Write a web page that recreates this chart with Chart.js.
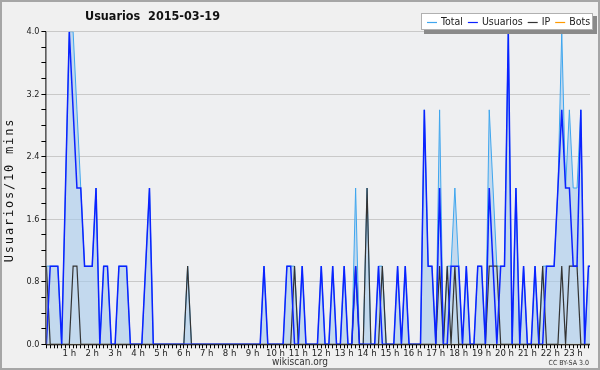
<!DOCTYPE html>
<html>
<head>
<meta charset="utf-8">
<script src="https://cdn.jsdelivr.net/npm/chart.js@4/dist/chart.umd.min.js"></script>
<style>
  html, body { margin: 0; padding: 0; background: #f0f0f0; }
  canvas { display: block; }
</style>
</head>
<body>
<canvas id="grafico" width="600" height="370"></canvas>
<script>
// one value per 10 minute slot, 00:00 .. 23:50
const total = [
    1, 1, 1, 1, 0, 2, 4, 4, 3, 2, 1, 1,
    1, 2, 0, 1, 1, 0, 0, 1, 1, 1, 0, 0,
    0, 0, 1, 2, 0, 0, 0, 0, 0, 0, 0, 0,
    0, 1, 0, 0, 0, 0, 0, 0, 0, 0, 0, 0,
    0, 0, 0, 0, 0, 0, 0, 0, 0, 1, 0, 0,
    0, 0, 0, 1, 1, 1, 0, 1, 0, 0, 0, 0,
    1, 0, 0, 1, 0, 0, 1, 0, 0, 2, 0, 0,
    2, 0, 0, 1, 1, 0, 0, 0, 1, 0, 1, 0,
    0, 0, 0, 3, 1, 1, 0, 3, 0, 1, 1, 2,
    1, 0, 1, 0, 0, 1, 1, 0, 3, 2, 1, 1,
    1, 4, 0, 2, 0, 1, 0, 0, 1, 0, 1, 1,
    1, 1, 2, 4, 2, 3, 2, 2, 3, 0, 1, 1
];
const usuarios = [
    0, 1, 1, 1, 0, 2, 4, 3, 2, 2, 1, 1,
    1, 2, 0, 1, 1, 0, 0, 1, 1, 1, 0, 0,
    0, 0, 1, 2, 0, 0, 0, 0, 0, 0, 0, 0,
    0, 0, 0, 0, 0, 0, 0, 0, 0, 0, 0, 0,
    0, 0, 0, 0, 0, 0, 0, 0, 0, 1, 0, 0,
    0, 0, 0, 1, 1, 0, 0, 1, 0, 0, 0, 0,
    1, 0, 0, 1, 0, 0, 1, 0, 0, 1, 0, 0,
    0, 0, 0, 1, 0, 0, 0, 0, 1, 0, 1, 0,
    0, 0, 0, 3, 1, 1, 0, 2, 0, 0, 1, 1,
    1, 0, 1, 0, 0, 1, 1, 0, 2, 1, 0, 1,
    1, 4, 0, 2, 0, 1, 0, 0, 1, 0, 0, 1,
    1, 1, 2, 3, 2, 2, 1, 1, 3, 0, 1, 1
];
const ip = [
    1, 0, 0, 0, 0, 0, 0, 1, 1, 0, 0, 0,
    0, 0, 0, 0, 0, 0, 0, 0, 0, 0, 0, 0,
    0, 0, 0, 0, 0, 0, 0, 0, 0, 0, 0, 0,
    0, 1, 0, 0, 0, 0, 0, 0, 0, 0, 0, 0,
    0, 0, 0, 0, 0, 0, 0, 0, 0, 0, 0, 0,
    0, 0, 0, 0, 0, 1, 0, 0, 0, 0, 0, 0,
    0, 0, 0, 0, 0, 0, 0, 0, 0, 1, 0, 0,
    2, 0, 0, 0, 1, 0, 0, 0, 0, 0, 0, 0,
    0, 0, 0, 0, 0, 0, 0, 1, 0, 1, 0, 1,
    0, 0, 0, 0, 0, 0, 0, 0, 1, 1, 1, 0,
    0, 0, 0, 0, 0, 0, 0, 0, 0, 0, 1, 0,
    0, 0, 0, 1, 0, 1, 1, 1, 0, 0, 0, 0
];
const bots = [
    0, 0, 0, 0, 0, 0, 0, 0, 0, 0, 0, 0,
    0, 0, 0, 0, 0, 0, 0, 0, 0, 0, 0, 0,
    0, 0, 0, 0, 0, 0, 0, 0, 0, 0, 0, 0,
    0, 0, 0, 0, 0, 0, 0, 0, 0, 0, 0, 0,
    0, 0, 0, 0, 0, 0, 0, 0, 0, 0, 0, 0,
    0, 0, 0, 0, 0, 0, 0, 0, 0, 0, 0, 0,
    0, 0, 0, 0, 0, 0, 0, 0, 0, 0, 0, 0,
    0, 0, 0, 0, 0, 0, 0, 0, 0, 0, 0, 0,
    0, 0, 0, 0, 0, 0, 0, 0, 0, 0, 0, 0,
    0, 0, 0, 0, 0, 0, 0, 0, 0, 0, 0, 0,
    0, 0, 0, 0, 0, 0, 0, 0, 0, 0, 0, 0,
    0, 0, 0, 0, 0, 0, 0, 0, 0, 0, 0, 0
];
const hourLabels = ['1 h', '2 h', '3 h', '4 h', '5 h', '6 h', '7 h', '8 h', '9 h', '10 h', '11 h', '12 h',
    '13 h', '14 h', '15 h', '16 h', '17 h', '18 h', '19 h', '20 h', '21 h', '22 h', '23 h'];
const yLabels = ['0.0', '0.8', '1.6', '2.4', '3.2', '4.0'];

const titulo = 'Usuarios  2015-03-19';
const ejeY = 'Usuarios/10 mins';

function pts(arr) {
    return arr.map((v, i) => ({ x: i, y: v }));
}

const series = [
    { label: 'Total', data: total, color: '#3fa6ee', width: 1, order: 2 },
    { label: 'Usuarios', data: usuarios, color: '#0b22ff', width: 1.5, order: 0 },
    { label: 'IP', data: ip, color: '#333333', width: 1.2, order: 1 },
    { label: 'Bots', data: bots, color: '#ff9a00', width: 1, order: 3 }
];

const decor = {
    id: 'decor',
    beforeDraw(chart) {
        const c = chart.ctx;
        const a = chart.chartArea;
        c.save();
        c.fillStyle = '#f0f0f0';
        c.fillRect(0, 0, chart.width, chart.height);
        c.fillStyle = '#eeeff1';
        c.fillRect(a.left, a.top, a.right - a.left, a.bottom - a.top);
        c.restore();
    },
    afterDatasetsDraw(chart) {
        const c = chart.ctx;
        const a = chart.chartArea;
        c.save();
        c.strokeStyle = '#000';
        c.lineWidth = 1;
        c.beginPath();
        c.moveTo(a.left - 0.5, a.top);
        c.lineTo(a.left - 0.5, a.bottom + 0.5);
        c.lineTo(a.right, a.bottom + 0.5);
        c.stroke();
        c.restore();
    },
    afterDraw(chart) {
        const c = chart.ctx;
        c.save();
        // outer frame
        c.strokeStyle = '#a6a6a6';
        c.lineWidth = 2;
        c.strokeRect(1, 1, 598, 368);

        c.fillStyle = '#111';
        c.font = "bold 12.5px 'DejaVu Sans Condensed', 'DejaVu Sans'";
        c.textBaseline = 'middle';
        c.fillText(titulo, 85, 17);

        c.save();
        c.translate(10, 190);
        c.rotate(-Math.PI / 2);
        c.textAlign = 'center';
        c.font = "12px 'DejaVu Sans Mono'";
        c.letterSpacing = '1.8px';
        c.fillText(ejeY, 0, 0);
        c.restore();

        c.textAlign = 'center';
        c.font = "10px 'DejaVu Sans Condensed', 'DejaVu Sans'";
        c.fillStyle = '#333';
        c.fillText('wikiscan.org', 300, 362);
        c.font = "7px 'DejaVu Sans Condensed', 'DejaVu Sans'";
        c.textAlign = 'right';
        c.fillText('CC BY-SA 3.0', 589, 363);

        // legend box with shadow
        c.fillStyle = '#8a8a8a';
        c.fillRect(424, 16, 173, 18);
        c.fillStyle = '#fff';
        c.fillRect(421, 13, 172, 17);
        c.strokeStyle = '#b0b0b0';
        c.lineWidth = 1;
        c.strokeRect(421.5, 13.5, 171, 16);
        c.font = "10.5px 'DejaVu Sans Condensed', 'DejaVu Sans'";
        c.textAlign = 'left';
        let x = 427;
        chart.data.datasets.forEach(ds => {
            c.strokeStyle = ds.borderColor;
            c.lineWidth = 1.2;
            c.beginPath();
            c.moveTo(x, 22.5);
            c.lineTo(x + 10, 22.5);
            c.stroke();
            c.fillStyle = '#222';
            c.fillText(ds.label, x + 14, 22.5);
            x += 14 + c.measureText(ds.label).width + 5;
        });
        c.restore();
    }
};

new Chart(document.getElementById('grafico'), {
    type: 'line',
    data: {
        datasets: series.map(s => ({
            label: s.label,
            data: pts(s.data),
            borderColor: s.color,
            borderWidth: s.width,
            backgroundColor: s.label === 'Total' ? 'rgba(168, 204, 236, 0.62)' : 'transparent',
            fill: s.label === 'Total' ? 'origin' : false,
            pointRadius: 0,
            tension: 0,
            order: s.order
        }))
    },
    options: {
        responsive: false,
        devicePixelRatio: 1,
        animation: false,
        layout: { padding: { left: 0, right: 10, top: 31.7, bottom: 0 } },
        plugins: {
            legend: { display: false },
            tooltip: { enabled: false }
        },
        scales: {
            x: {
                type: 'linear',
                min: 0,
                max: 142.4,
                afterFit(scale) { scale.height = 25.7; },
                border: { display: false },
                grid: { drawOnChartArea: false, tickLength: 4, tickColor: '#000' },
                ticks: {
                    stepSize: 1,
                    includeBounds: false,
                    autoSkip: false,
                    maxRotation: 0,
                    minRotation: 0,
                    maxTicksLimit: 1000,
                    padding: 0,
                    color: '#222',
                    font: { family: "'DejaVu Sans Condensed', 'DejaVu Sans'", size: 9.5 },
                    callback: v => (v > 0 && v % 6 === 0) ? hourLabels[v / 6 - 1] : ''
                }
            },
            y: {
                min: 0,
                max: 4,
                afterFit(scale) { scale.width = 46.4; },
                border: { display: false },
                grid: {
                    color: ctx => (Math.round(ctx.tick.value * 10) % 8 === 0) ? '#c9c9c9' : 'rgba(0,0,0,0)',
                    tickColor: '#000',
                    tickLength: 5
                },
                ticks: {
                    stepSize: 0.2,
                    autoSkip: false,
                    padding: 2,
                    color: '#222',
                    font: { family: "'DejaVu Sans Condensed', 'DejaVu Sans'", size: 9 },
                    callback: v => (Math.round(v * 10) % 8 === 0) ? yLabels[Math.round(v * 10) / 8] : ''
                }
            }
        }
    },
    plugins: [decor]
});
</script>
</body>
</html>
